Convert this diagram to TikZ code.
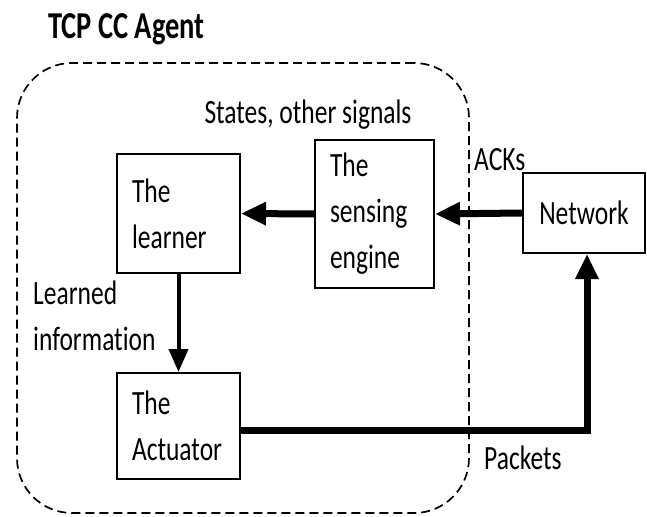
\documentclass[tikz,border=0pt]{standalone}
\usepackage{fontspec}
\setmainfont{Carlito}[FakeStretch=0.75,Ligatures=NoCommon]
\usetikzlibrary{arrows.meta}

\begin{document}
\begin{tikzpicture}[x=1pt,y=-1pt,
  txt/.style={font=\fontsize{34}{46}\selectfont},
  box/.style={draw,line width=2pt,txt,align=left,inner xsep=15pt,inner ysep=0pt},
  lbl/.style={txt,inner sep=0pt},
  flow/.style={line width=7pt,-{Triangle[length=25pt,width=22pt]}},
  thinflow/.style={line width=4pt,-{Triangle[length=23pt,width=19pt]}},
  agentbox/.style={draw,dashed,dash pattern=on 9pt off 5pt,line width=1.7pt,rounded corners=55pt}
]
\useasboundingbox (0,0) rectangle (647,516);

% agent boundary and its title
\node[agentbox,minimum width=452pt,minimum height=450pt] (agent) at (243,288) {};
\node[lbl,anchor=base west,font=\fontsize{38}{40}\selectfont\bfseries] (title) at (48,39) {TCP CC Agent};

% components
\node[box,text width=93pt,minimum height=119pt] (learn) at (178.5,213.5) {The\\learner};
\node[box,text width=89pt,minimum height=148pt] (sens) at (374.5,214) {The\\sensing\\engine};
\node[box,align=center,minimum width=122pt,minimum height=80pt] (net) at (584,213) {Network};
\node[box,text width=93pt,minimum height=106pt] (act) at (178.5,426) {The\\Actuator};

% signal labels
\node[lbl,anchor=base] (states) at (308,124) {States, other signals};
\node[lbl,anchor=base west] (acks) at (474,170) {ACKs};
\node[lbl,anchor=base west] (packets) at (484,469) {Packets};
\node[lbl,anchor=base west,align=left] (learned) at (33,350) {Learned\\information};

% data flow
\draw[flow] (sens.west) -- (learn.east);
\draw[flow] (net.west) -- (sens.east);
\draw[thinflow] (learn.south) -- (act.north);
\draw[flow] ([yshift=-4pt]act.east) -| ([xshift=3pt]net.south);
\end{tikzpicture}
\end{document}
